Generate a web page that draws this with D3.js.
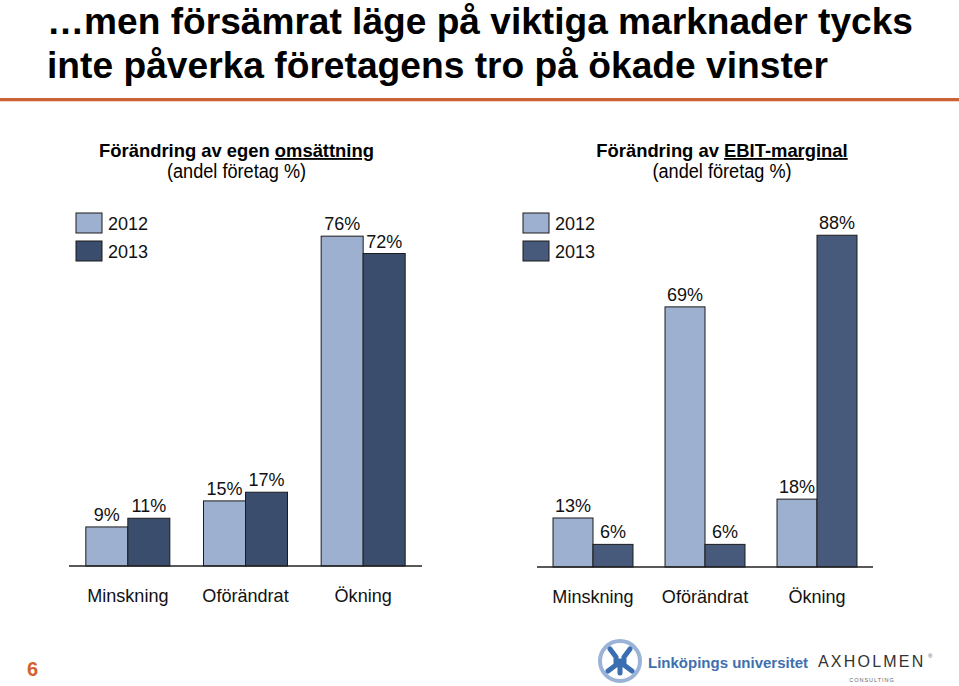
<!DOCTYPE html>
<html>
<head>
<meta charset="utf-8">
<script src="https://cdn.jsdelivr.net/npm/d3@7"></script>
<style>
  html, body { margin: 0; padding: 0; background: #fff; }
  svg { display: block; font-family: Arial, "Liberation Sans", sans-serif; }
</style>
</head>
<body>
<svg id="chart" width="959" height="686"></svg>
<script>
// ---- data ----
const titleLines = ["\u2026men försämrat läge på viktiga marknader tycks", "inte påverka företagens tro på ökade vinster"];
const categories = ["Minskning", "Oförändrat", "Ökning"];
const series = ["2012", "2013"];
const omsattning2012 = [9, 15, 76];
const omsattning2013 = [11, 17, 72];
const ebit2012 = [13, 69, 18];
const ebit2013 = [6, 6, 88];
const pageNumber = "6";

const svg = d3.select("#chart");

// title
const titleLayout = [{y: 34, len: 866}, {y: 78, len: 781}];
titleLines.forEach((t, i) => {
  svg.append("text").attr("x", 47).attr("y", titleLayout[i].y)
    .attr("font-size", 36).attr("font-weight", "bold").attr("fill", "#000")
    .attr("textLength", titleLayout[i].len).attr("lengthAdjust", "spacingAndGlyphs")
    .text(t);
});
// orange rule
svg.append("rect").attr("x", 0).attr("y", 98).attr("width", 959).attr("height", 3).attr("fill", "#CB6139");
svg.append("rect").attr("x", 0).attr("y", 101).attr("width", 959).attr("height", 1).attr("fill", "#F2D3C4");

function squeeze(sel, f) {
  sel.each(function () {
    const w = this.getComputedTextLength();
    d3.select(this).attr("textLength", w * f).attr("lengthAdjust", "spacingAndGlyphs");
  });
}

function drawPanel(opts) {
  const g = svg.append("g");
  const x = d3.scaleBand().domain(categories).range(opts.xRange).paddingInner(0.286).paddingOuter(0.143);
  const xs = d3.scaleBand().domain(series).range([0, x.bandwidth()]);
  const y = d3.scaleLinear().domain([0, 100]).range([opts.base, opts.top]);
  const color = d3.scaleOrdinal().domain(series).range(opts.colors);
  const rows = categories.map((c, i) => ({c, vals: [{s: "2012", v: opts.d2012[i]}, {s: "2013", v: opts.d2013[i]}]}));

  // subtitle
  const cx = (opts.xRange[0] + opts.xRange[1]) / 2 + opts.subDx;
  const st = g.append("text").attr("x", cx).attr("y", 157).attr("text-anchor", "middle")
    .attr("font-size", 18.4).attr("font-weight", "bold");
  st.append("tspan").text(opts.sub1a);
  st.append("tspan").attr("text-decoration", "underline").text(opts.sub1b);
  const st2 = g.append("text").attr("x", cx).attr("y", 178).attr("text-anchor", "middle")
    .attr("font-size", 19.5).text("(andel företag %)");
  squeeze(st2, 0.93);

  // bars
  const grp = g.selectAll("g.cat").data(rows).join("g").attr("transform", d => `translate(${x(d.c)},0)`);
  grp.selectAll("rect").data(d => d.vals).join("rect")
    .attr("x", d => xs(d.s)).attr("width", xs.bandwidth())
    .attr("y", d => y(d.v)).attr("height", d => y(0) - y(d.v))
    .attr("fill", d => color(d.s)).attr("stroke", "#1b1b1b").attr("stroke-width", 1);
  grp.selectAll("text.val").data(d => d.vals).join("text").attr("class", "val")
    .attr("x", d => xs(d.s) + xs.bandwidth() / 2).attr("y", d => y(d.v) - 6)
    .attr("text-anchor", "middle").attr("font-size", 18).attr("fill", "#111")
    .text(d => d.v + "%");

  // axis
  const axis = g.append("g").attr("transform", `translate(0,${opts.base})`)
    .call(d3.axisBottom(x).tickSize(0).tickPadding(22));
  axis.select(".domain").attr("stroke", "#222").attr("stroke-width", 1.3).attr("d", `M${opts.xRange[0]},0H${opts.xRange[1]}`);
  const tt = axis.selectAll(".tick text").attr("font-size", 19).attr("fill", "#111")
    .attr("font-family", "Arial, 'Liberation Sans', sans-serif").attr("dy", "0").attr("y", 36);
  squeeze(tt, 0.95);

  // legend
  const lg = g.append("g").attr("transform", `translate(${opts.legX},213)`);
  series.forEach((s, i) => {
    lg.append("rect").attr("x", 0).attr("y", i * 28).attr("width", 26).attr("height", 20)
      .attr("fill", color(s)).attr("stroke", "#1b1b1b").attr("stroke-width", 1);
    lg.append("text").attr("x", 32).attr("y", i * 28 + 17).attr("font-size", 18).attr("fill", "#111").text(s);
  });
}

drawPanel({xRange: [69, 422], base: 566, top: 132, colors: ["#9DB0CF", "#3B4D6D"],
  d2012: omsattning2012, d2013: omsattning2013, legX: 76, subDx: -9,
  sub1a: "Förändring av egen ", sub1b: "omsättning"});
drawPanel({xRange: [537, 873], base: 567, top: 190, colors: ["#9DB0CF", "#485A7C"],
  d2012: ebit2012, d2013: ebit2013, legX: 523, subDx: 17,
  sub1a: "Förändring av ", sub1b: "EBIT-marginal"});

// footer
svg.append("text").attr("x", 27).attr("y", 676).attr("font-size", 20).attr("font-weight", "bold")
  .attr("fill", "#D0632F").text(pageNumber);

// LiU logo (simplified)
const logo = svg.append("g").attr("transform", "translate(620,661)");
logo.append("circle").attr("r", 20).attr("fill", "none").attr("stroke", "#9BB3D6").attr("stroke-width", 4);
logo.append("path").attr("d", "M-10,-12 L-4,-4 L-4,4 L-12,10 M10,-12 L4,-4 L4,4 L12,10 M-4,0 H4 M0,4 L0,12")
  .attr("stroke", "#3A6EB0").attr("stroke-width", 5).attr("fill", "none").attr("stroke-linecap", "round");
svg.append("text").attr("x", 648).attr("y", 668).attr("font-size", 15).attr("font-weight", "bold")
  .attr("fill", "#3E6FAE").text("Linköpings universitet");
svg.append("text").attr("x", 818).attr("y", 667).attr("font-size", 16).attr("fill", "#333")
  .attr("letter-spacing", 2.2).text("AXHOLMEN");
svg.append("text").attr("x", 928).attr("y", 658).attr("font-size", 6).attr("fill", "#555").text("®");
svg.append("text").attr("x", 872).attr("y", 682).attr("font-size", 5.5).attr("fill", "#666")
  .attr("text-anchor", "middle").attr("letter-spacing", 1).text("CONSULTING");
</script>
</body>
</html>
